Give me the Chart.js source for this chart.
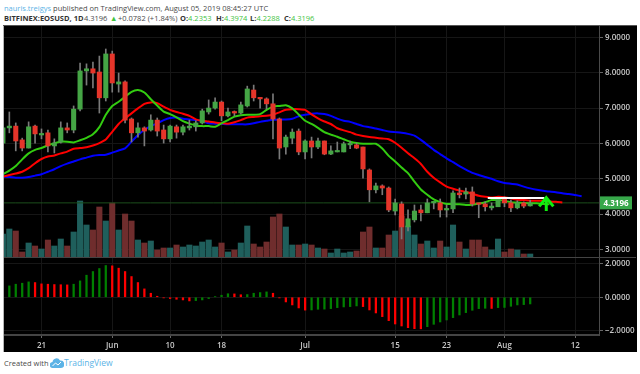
<!DOCTYPE html>
<html>
<head>
<meta charset="utf-8">
<title>EOSUSD</title>
<script src="https://cdn.jsdelivr.net/npm/chart.js@4"></script>
<style>
  html, body { margin: 0; padding: 0; background: #fff; }
  body { width: 640px; height: 374px; position: relative; overflow: hidden; font-family: "Open Sans", sans-serif; font-size: 7.5px; color: #4a4a4a; }
  .txt { position: absolute; white-space: nowrap; line-height: 12px; }
  .b { font-weight: 700; color: #333; }
  .up { color: #3fc43f; }
  .blue { color: #5cb3e6; }
  #panel { position: absolute; left: 3px; top: 26px; width: 633px; height: 326px; background: #000; border-left: 1px solid #b5b5b5; box-shadow: 0 -1px 0 #555; }
  #mainWrap { position: absolute; left: 4px; top: 26px; width: 632px; height: 231px; }
  #macdWrap { position: absolute; left: 4px; top: 258px; width: 632px; height: 94px; }
  #sep { position: absolute; left: 4px; top: 257px; width: 632px; height: 1px; background: #444; }
</style>
</head>
<body>
<div class="txt" style="left:4px;top:2px"><span class="blue">nauris.treigys</span> published on TradingView.com, August 05, 2019 08:45:27 UTC</div>
<div class="txt" style="left:4px;top:12px"><span class="b">BITFINEX:EOSUSD, 1D</span></div>
<div class="txt" style="left:84px;top:12px">4.3196</div>
<div class="txt up" style="left:110px;top:12px">&#9650;</div>
<div class="txt" style="left:118px;top:12px">+0.0782 (+1.84%)</div>
<div class="txt" style="left:180px;top:12px"><span class="b">O:</span><span class="up">4.2353</span></div>
<div class="txt" style="left:216px;top:12px"><span class="b">H:</span><span class="up">4.3974</span></div>
<div class="txt" style="left:250px;top:12px"><span class="b">L:</span><span class="up">4.2288</span></div>
<div class="txt" style="left:284px;top:12px"><span class="b">C:</span><span class="up">4.3196</span></div>

<div id="panel"></div>
<div id="mainWrap"><canvas id="main_Chart" width="632" height="231"></canvas></div>
<div id="sep"></div>
<div id="macdWrap"><canvas id="macd_Chart" width="632" height="94"></canvas></div>

<div class="txt" style="left:4px;top:357px">Created with</div>
<svg style="position:absolute;left:50px;top:358px" width="14" height="10" viewBox="0 0 14 10"><path d="M3 10a3 3 0 0 1-.5-6A4 4 0 0 1 10 2.5a3.6 3.6 0 0 1 1 7.5z" fill="#5cb3e6"/><path d="M2.5 8l3-3 2.5 2 3-3" stroke="#fff" stroke-width="1" fill="none"/></svg>
<div class="txt blue" style="left:64px;top:357px;font-size:8.5px">TradingView</div>

<script>
// first candle is day -6, day 0 is May 21
const firstDay = -6;
const candleOpen = [
  6.01,6.44,6.49,6.10,5.87,6.49,6.24,6.30,5.93,6.04,
  6.44,6.38,6.97,8.05,8.11,8.02,7.29,8.53,7.68,7.74,
  6.69,6.30,6.44,6.38,6.66,6.38,6.13,6.47,6.32,6.44,
  6.47,6.58,6.89,7.00,7.17,6.78,6.89,6.86,7.06,7.51,
  7.29,7.26,7.12,6.69,5.90,6.15,6.35,5.76,6.07,5.90,
  6.07,5.70,5.76,5.76,5.96,5.96,5.90,5.25,4.69,4.80,
  4.74,4.09,4.29,3.64,3.84,4.12,4.04,4.32,4.32,4.12,
  4.15,4.60,4.57,4.63,4.29,4.29,4.18,4.21,4.43,4.32,
  4.18,4.32,4.2353];
const candleClose = [
  6.44,6.49,6.07,5.87,6.47,6.27,6.27,5.93,6.01,6.44,
  6.38,6.97,8.05,8.11,7.99,7.29,8.53,7.71,7.74,6.66,
  6.30,6.44,6.35,6.66,6.35,6.13,6.49,6.32,6.47,6.49,
  6.58,6.92,7.00,7.17,6.78,6.89,6.86,7.09,7.54,7.29,
  7.26,7.12,6.69,5.87,6.18,6.32,5.76,6.07,5.90,6.07,
  5.70,5.79,5.79,5.99,5.99,5.87,5.28,4.69,4.80,4.74,
  4.12,4.32,3.64,3.87,4.09,4.04,4.32,4.35,4.12,4.15,
  4.60,4.55,4.63,4.29,4.28,4.21,4.23,4.46,4.32,4.18,
  4.32,4.23,4.3196];
const candleHigh = [
  6.52,6.89,6.58,6.15,6.61,6.52,6.41,6.38,6.13,6.61,
  6.58,7.06,8.27,8.25,8.30,8.47,8.67,8.61,7.99,7.77,
  6.72,6.58,6.47,6.81,6.72,6.52,6.52,6.52,6.52,6.66,
  6.64,6.97,7.23,7.29,7.20,7.00,6.92,7.17,7.62,7.65,
  7.29,7.29,7.40,6.72,6.24,6.41,6.41,6.10,6.18,6.15,
  6.07,5.93,6.04,6.04,6.07,6.01,5.90,5.28,4.88,4.83,
  4.77,4.43,4.35,4.12,4.26,4.26,4.43,4.35,4.43,4.26,
  4.66,4.74,4.74,4.77,4.29,4.35,4.32,4.46,4.49,4.40,
  4.38,4.35,4.3974];
const candleLow = [
  5.96,6.30,5.79,5.79,5.87,6.01,6.13,5.76,5.73,6.01,
  6.30,6.30,6.92,7.65,7.57,6.86,7.20,7.45,7.45,6.58,
  6.04,6.18,5.93,6.35,6.21,6.01,6.04,6.15,6.24,6.38,
  6.35,6.55,6.83,6.97,6.64,6.75,6.78,6.83,7.03,7.20,
  7.00,6.97,6.13,5.56,5.70,5.99,5.68,5.56,5.59,5.85,
  5.68,5.68,5.76,5.76,5.85,5.85,5.02,4.35,4.60,4.55,
  4.07,3.98,3.30,3.53,3.78,3.81,4.04,4.15,3.92,3.92,
  4.04,4.46,4.43,4.23,3.90,4.09,4.12,4.21,4.21,4.07,
  4.15,4.18,4.2288];
const volume = [
  23,28,26,5,14,11,8,17,11,18,
  11,25,56,32,27,50,36,54,27,43,
  36,17,14,16,7,9,9,12,10,12,
  11,15,17,10,14,5,7,14,31,13,
  10,15,40,43,30,12,12,13,12,9,
  8,4,8,4,5,6,25,30,9,9,
  22,26,41,31,22,13,16,9,16,10,
  32,15,8,17,17,10,7,18,5,8,
  7,3,3];
// alligator lines, shifted forward so they run past the last candle
const jawLine = [
  5.06,5.05,5.03,5.03,5.05,5.09,5.13,5.20,5.27,5.36,
  5.43,5.49,5.55,5.60,5.65,5.67,5.68,5.74,5.80,5.86,
  6.05,6.24,6.38,6.49,6.57,6.66,6.72,6.73,6.70,6.68,
  6.66,6.64,6.57,6.56,6.55,6.54,6.54,6.54,6.54,6.57,
  6.61,6.64,6.67,6.68,6.68,6.70,6.77,6.81,6.84,6.85,
  6.83,6.78,6.70,6.64,6.61,6.55,6.49,6.46,6.42,6.38,
  6.34,6.32,6.30,6.27,6.22,6.10,5.96,5.82,5.70,5.58,
  5.47,5.36,5.26,5.17,5.11,5.05,5.00,4.93,4.88,4.86,
  4.84,4.78,4.73,4.69,4.66,4.64,4.62,4.59,4.57,4.54,4.51];
const teethLine = [
  5.06,5.11,5.15,5.20,5.30,5.44,5.56,5.63,5.66,5.72,
  5.77,5.85,5.87,5.89,5.94,6.01,6.11,6.33,6.55,6.71,
  6.85,6.99,7.12,7.16,7.14,7.04,6.95,6.89,6.84,6.78,
  6.68,6.64,6.62,6.59,6.57,6.56,6.60,6.66,6.73,6.75,
  6.77,6.78,6.81,6.88,6.95,6.97,6.97,6.95,6.82,6.71,
  6.62,6.55,6.43,6.37,6.32,6.25,6.21,6.18,6.16,6.14,
  6.12,6.02,5.88,5.72,5.58,5.42,5.20,5.03,4.90,4.78,
  4.72,4.67,4.63,4.58,4.52,4.49,4.47,4.49,4.48,4.44,
  4.41,4.40,4.38,4.38,4.38,4.36,4.35,4.33];
const lipsLine = [
  5.13,5.23,5.36,5.55,5.72,5.82,5.87,5.95,6.01,6.05,
  6.05,6.03,6.09,6.16,6.26,6.46,6.81,7.06,7.18,7.32,
  7.46,7.51,7.44,7.25,7.07,6.90,6.83,6.74,6.63,6.56,
  6.51,6.49,6.49,6.47,6.57,6.66,6.76,6.80,6.81,6.81,
  6.83,6.95,7.04,7.06,7.08,6.99,6.82,6.64,6.55,6.44,
  6.32,6.25,6.19,6.12,6.05,6.01,5.99,5.99,5.99,5.86,
  5.65,5.49,5.32,5.16,4.92,4.70,4.55,4.42,4.34,4.29,
  4.29,4.28,4.26,4.27,4.30,4.34,4.40,4.40,4.38,4.34,
  4.33,4.32,4.31,4.31,4.29,4.28];
// macd histogram starts one day after the first candle
const macdValues = [
  0.68,0.78,0.84,0.92,0.88,0.80,0.78,0.76,0.75,0.74,
  0.78,0.98,1.32,1.54,1.72,1.90,1.88,1.74,1.54,1.24,
  0.88,0.50,0.24,0.06,-0.04,-0.08,-0.12,-0.16,-0.22,-0.20,
  -0.16,-0.08,0.04,0.12,0.21,0.20,0.15,0.16,0.24,0.28,
  0.32,0.24,-0.04,-0.28,-0.46,-0.64,-0.77,-0.76,-0.72,-0.71,
  -0.68,-0.62,-0.58,-0.56,-0.52,-0.56,-0.76,-0.94,-1.16,-1.40,
  -1.60,-1.72,-1.82,-1.88,-1.89,-1.76,-1.62,-1.48,-1.36,-1.22,
  -1.06,-0.92,-0.78,-0.68,-0.66,-0.67,-0.62,-0.61,-0.54,-0.46,
  -0.44,-0.40];
const priceTicks = [3, 4, 5, 6, 7, 8, 9];
const macdTicks = [-2, 0, 2];
const dayTicks = [0, 11, 20, 28, 41, 55, 63, 72, 83];
const dayLabels = ['21', 'Jun', '10', '18', 'Jul', '15', '23', 'Aug', '12'];
const lastClose = 4.3196;
// hand drawn marks on the chart: day and price
const whiteDays = [69.4, 78.2];
const whitePrices = [4.46, 4.46];
const arrowDays = [78.5, 78.5];
const arrowPrices = [4.09, 4.44];
const arrowHeadDays = [77.4, 78.5, 79.6];
const arrowHeadPrices = [4.22, 4.47, 4.22];

const axisFont = { family: '"Open Sans", sans-serif', size: 8, weight: '600' };
const gridColor = '#161616';
const dayMin = -5.83;
const dayMax = 86.7;

const days = candleOpen.map((v, i) => i + firstDay);
const isUp = days.map((d, i) => candleClose[i] >= candleOpen[i]);

const series = (values) => values.map((v, i) => ({ x: i + firstDay, y: v }));
const xy = (xs, ys) => xs.map((x, i) => ({ x: x, y: ys[i] }));

const line = (data, color, width, order, tension = 0.2) => ({
  type: 'line', data: data, borderColor: color, borderWidth: width,
  pointRadius: 0, tension: tension, yAxisID: 'y', order: order
});

const setTicks = (values) => (scale) => { scale.ticks = values.map(v => ({ value: v })); };

// axis keeps its width and gives up the half-label padding, the pane fills the canvas
const fitPriceAxis = (s) => {
  s.width = 37;
  s.paddingTop = 0;
  s.paddingBottom = 0;
};

// green box with the last price on the axis
const lastPriceLabel = {
  id: 'lastPriceLabel',
  afterDraw(chart) {
    const y = chart.scales.y.getPixelForValue(lastClose);
    const ctx = chart.ctx;
    ctx.save();
    ctx.fillStyle = '#37a84a';
    ctx.fillRect(chart.chartArea.right + 1, y - 6.5, 32, 13);
    ctx.fillStyle = '#fff';
    ctx.font = '700 8px "Open Sans", sans-serif';
    ctx.textAlign = 'center';
    ctx.textBaseline = 'middle';
    ctx.fillText(lastClose.toFixed(4), chart.chartArea.right + 17, y + 0.5);
    ctx.restore();
  }
};

new Chart(document.getElementById('main_Chart').getContext('2d'), {
  data: {
    datasets: [
      {
        type: 'bar', yAxisID: 'yVol', order: 9, grouped: false, barThickness: 5.4,
        data: series(volume), backgroundColor: isUp.map(u => u ? '#1f5f5c' : '#6f2d2d')
      },
      line(xy([dayMin, dayMax], [lastClose, lastClose]), '#1c4f1c', 1, 8),
      line(series(jawLine), '#0000ff', 2, 7),
      line(series(teethLine), '#ff0000', 2, 6),
      line(series(lipsLine), '#33cc11', 2, 5),
      {
        type: 'bar', yAxisID: 'y', order: 4, grouped: false, barThickness: 1,
        data: days.map((d, i) => ({ x: d, y: [candleLow[i], candleHigh[i]] })),
        backgroundColor: '#7a7a7a'
      },
      {
        type: 'bar', yAxisID: 'y', order: 3, grouped: false, barThickness: 4.4, minBarLength: 1.5,
        data: days.map((d, i) => ({ x: d, y: [candleOpen[i], candleClose[i]] })),
        backgroundColor: isUp.map(u => u ? '#45a545' : '#e5352a')
      },
      line(xy(whiteDays, whitePrices), '#ffffff', 2, 2, 0),
      line(xy(arrowDays, arrowPrices), '#0fee0f', 3, 1, 0),
      line(xy(arrowHeadDays, arrowHeadPrices), '#0fee0f', 3, 1, 0)
    ]
  },
  options: {
    responsive: false, animation: false, events: [],
    layout: { padding: 0 },
    plugins: { legend: { display: false }, tooltip: { enabled: false } },
    scales: {
      x: {
        type: 'linear', min: dayMin, max: dayMax, offset: false,
        afterBuildTicks: setTicks(dayTicks),
        ticks: { display: false },
        border: { display: false },
        grid: { color: gridColor, drawTicks: false, offset: false }
      },
      y: {
        position: 'right', min: 2.79, max: 9.32,
        afterBuildTicks: setTicks(priceTicks),
        afterFit: fitPriceAxis,
        ticks: { color: '#c8c8c8', font: axisFont, padding: 2, callback: (v) => v.toFixed(4) },
        border: { color: '#4a4a4a' },
        grid: { color: gridColor, tickColor: '#666', tickLength: 4 }
      },
      yVol: { display: false, min: 0, max: 231 }
    }
  },
  plugins: [lastPriceLabel]
});

new Chart(document.getElementById('macd_Chart').getContext('2d'), {
  data: {
    datasets: [{
      type: 'bar', grouped: false, barThickness: 1.6,
      data: macdValues.map((v, i) => ({ x: i + firstDay + 1, y: v })),
      // green while the histogram rises, red while it falls
      backgroundColor: macdValues.map((v, i) => (i === 0 || v > macdValues[i - 1]) ? '#008000' : '#ff0000')
    }]
  },
  options: {
    responsive: false, animation: false, events: [],
    layout: { padding: 0 },
    plugins: { legend: { display: false }, tooltip: { enabled: false } },
    scales: {
      x: {
        type: 'linear', min: dayMin, max: dayMax, offset: false,
        afterBuildTicks: setTicks(dayTicks),
        afterFit: (s) => { s.height = 17; },
        ticks: { color: '#c8c8c8', font: axisFont, maxRotation: 0, autoSkip: false, padding: 3, callback: (v, i) => dayLabels[i] },
        border: { color: '#444', width: 2 },
        grid: { color: gridColor, tickColor: '#666', tickLength: 3, offset: false }
      },
      y: {
        position: 'right', min: -2.26, max: 2.35,
        afterBuildTicks: setTicks(macdTicks),
        afterFit: fitPriceAxis,
        ticks: { color: '#c8c8c8', font: axisFont, padding: 2, callback: (v) => v === 0 ? '0.0000' : (v < 0 ? '\u2212' : '') + Math.abs(v).toFixed(4) },
        border: { color: '#4a4a4a' },
        grid: { color: gridColor, tickColor: '#666', tickLength: 4 }
      }
    }
  }
});
</script>
</body>
</html>
